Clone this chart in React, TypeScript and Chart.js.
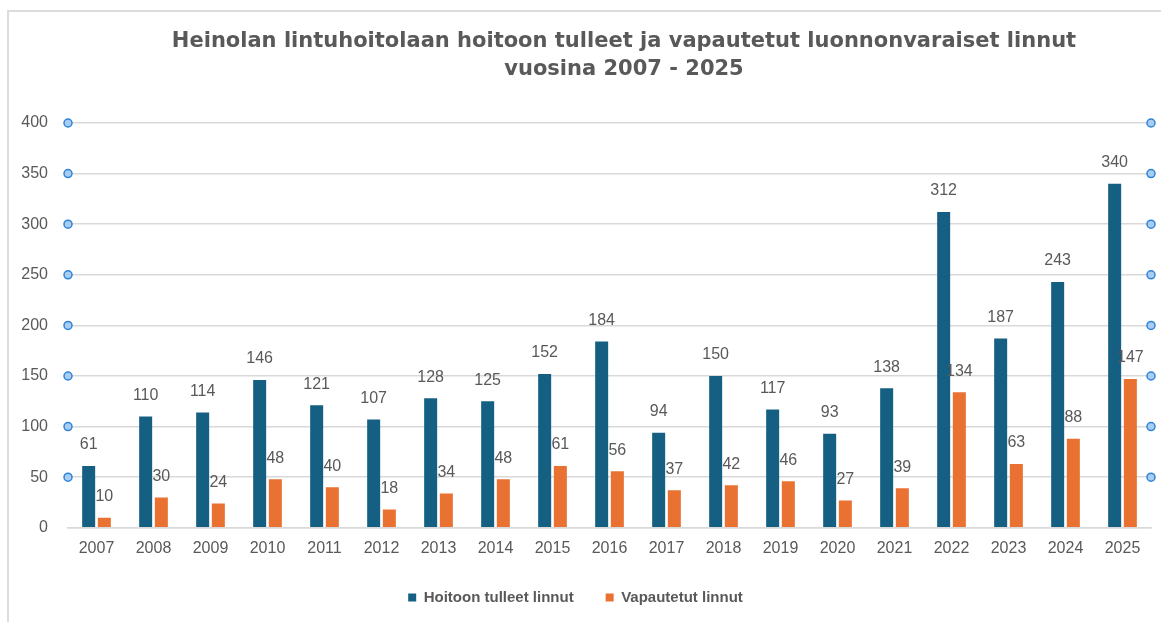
import React, { useEffect, useRef } from "react";
import { Chart, registerables } from "chart.js";

Chart.register(...registerables);

const years = ["2007","2008","2009","2010","2011","2012","2013","2014","2015","2016","2017","2018","2019","2020","2021","2022","2023","2024","2025"];
const hoitoon = [61,110,114,146,121,107,128,125,152,184,94,150,117,93,138,312,187,243,340];
const vapautetut = [10,30,24,48,40,18,34,48,61,56,37,42,46,27,39,134,63,88,147];
const titleLines = ["Heinolan lintuhoitolaan hoitoon tulleet ja vapautetut luonnonvaraiset linnut", "vuosina 2007 - 2025"];
const seriesNames = ["Hoitoon tulleet linnut", "Vapautetut linnut"];

const SANS = "'Liberation Sans', Arial, sans-serif";

const titlePlugin = {
  id: "customTitle",
  afterDraw(chart: any) {
    const ctx = chart.ctx;
    ctx.save();
    ctx.font = `bold 21px 'DejaVu Sans', sans-serif`;
    ctx.fillStyle = "#595959";
    ctx.textAlign = "center";
    ctx.textBaseline = "middle";
    ctx.fillText(titleLines[0], 624, 42);
    ctx.fillText(titleLines[1], 624, 70);
    ctx.restore();
  },
};

const labelPlugin = {
  id: "barLabels",
  afterDatasetsDraw(chart: any) {
    const ctx = chart.ctx;
    ctx.save();
    ctx.font = `16px ${SANS}`;
    ctx.fillStyle = "#595959";
    ctx.textAlign = "center";
    ctx.textBaseline = "middle";
    chart.data.datasets.forEach((ds: any, di: number) => {
      const meta = chart.getDatasetMeta(di);
      meta.data.forEach((bar: any, i: number) => {
        ctx.fillText(String(ds.data[i]), bar.x, bar.y - 21);
      });
    });
    ctx.restore();
  },
};

const handlePlugin = {
  id: "handles",
  afterDraw(chart: any) {
    const ctx = chart.ctx;
    const y = chart.scales.y;
    const { left, right } = chart.chartArea;
    ctx.save();
    y.ticks.forEach((t: any) => {
      if (t.value <= 0) return;
      const py = y.getPixelForValue(t.value);
      [left, right].forEach((px: number) => {
        ctx.beginPath();
        ctx.arc(px, py, 4, 0, Math.PI * 2);
        ctx.fillStyle = "#a9cdf2";
        ctx.fill();
        ctx.lineWidth = 1.5;
        ctx.strokeStyle = "#2f84d8";
        ctx.stroke();
      });
    });
    ctx.restore();
  },
};

export default function App() {
  const ref = useRef<HTMLCanvasElement>(null);
  useEffect(() => {
    if (!ref.current) return;
    const chart = new Chart(ref.current, {
      type: "bar",
      data: {
        labels: years,
        datasets: [
          { label: seriesNames[0], data: hoitoon, backgroundColor: "#156082", categoryPercentage: 0.55, barPercentage: 0.83 },
          { label: seriesNames[1], data: vapautetut, backgroundColor: "#E97132", categoryPercentage: 0.55, barPercentage: 0.83 },
        ],
      },
      options: {
        animation: false,
        responsive: false,
        maintainAspectRatio: false,
        layout: { padding: { left: 0, right: 10, top: 123, bottom: 7 } },
        plugins: {
          title: { display: false },
          legend: {
            position: "bottom",
            labels: {
              boxWidth: 8,
              boxHeight: 8,
              padding: 32,
              color: "#595959",
              font: { family: SANS, size: 15, weight: "bold" },
            },
          },
          tooltip: { enabled: false },
        },
        scales: {
          x: {
            afterFit: (s: any) => { s.height = Math.max(0, s.height - 11); },
            grid: { display: false, drawTicks: false },
            border: { display: true, color: "#d9d9d9", width: 1.5 },
            ticks: { color: "#595959", font: { family: SANS, size: 16 }, padding: 11, maxRotation: 0 },
          },
          y: {
            min: 0,
            max: 400,
            afterFit: (s: any) => { s.width = 68; },
            grid: { color: "#d9d9d9", lineWidth: 1.5, drawTicks: false },
            border: { display: false },
            ticks: { stepSize: 50, color: "#595959", font: { family: SANS, size: 16 }, padding: 20 },
          },
        },
      },
      plugins: [labelPlugin, handlePlugin, titlePlugin],
    });
    return () => chart.destroy();
  }, []);
  return (
    <div style={{ position: "absolute", left: 0, top: 0, width: 1161, height: 622, background: "#fff", overflow: "hidden" }}>
      <div style={{ position: "absolute", left: 7, top: 10, width: 1154, height: 612, boxSizing: "border-box", borderTop: "2px solid #dcdcdc", borderLeft: "2px solid #dcdcdc" }} />
      <canvas ref={ref} width={1161} height={622} style={{ position: "absolute", left: 0, top: 0 }} />
    </div>
  );
}
